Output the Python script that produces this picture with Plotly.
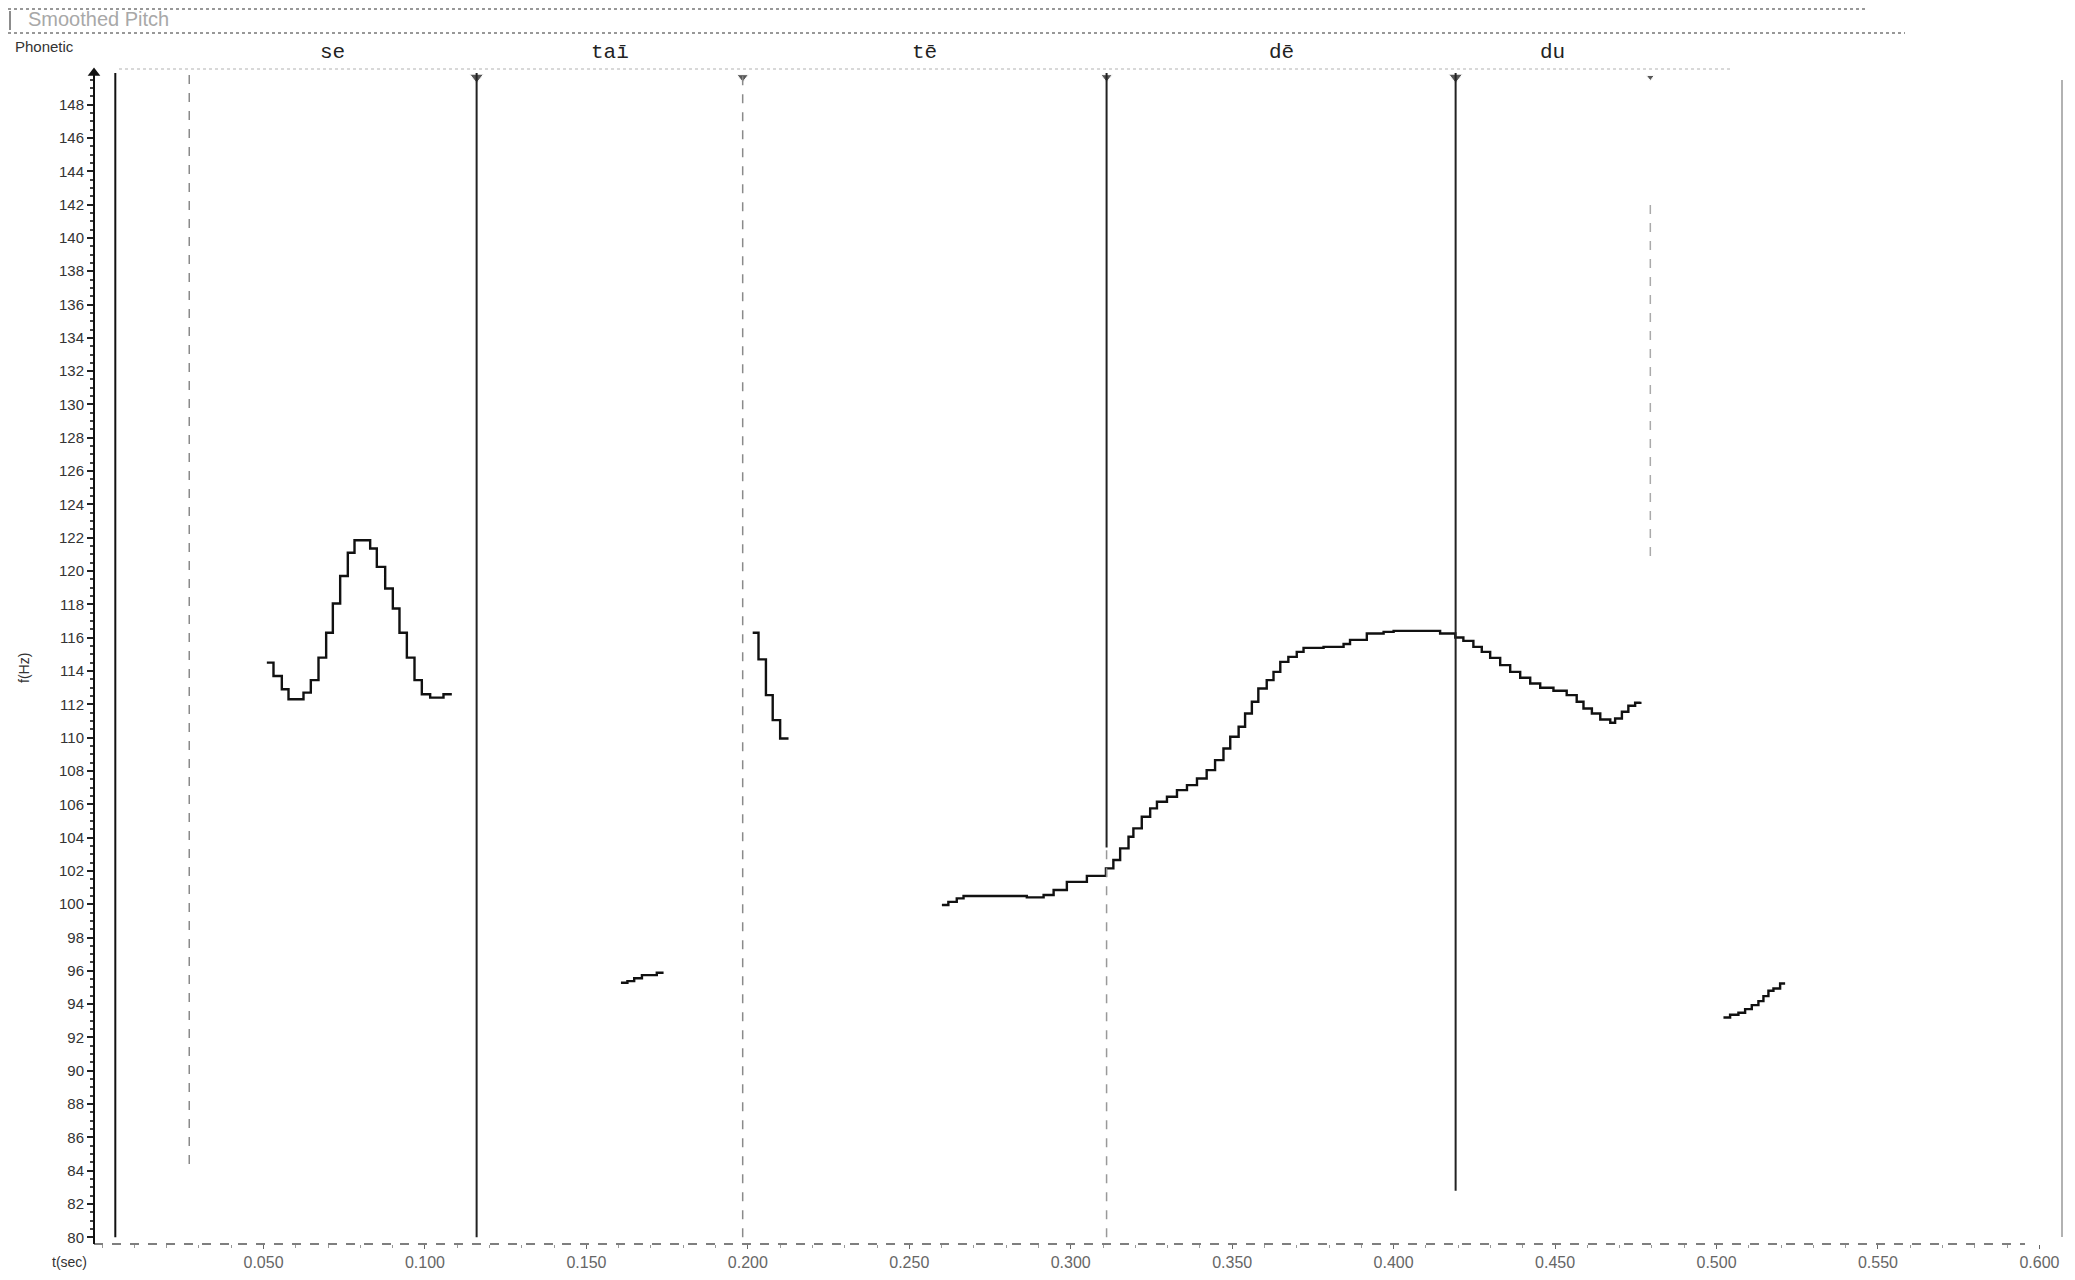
import plotly.graph_objs as go

# pitch contours (time in s, f0 in Hz)
se_t = [0.05103, 0.05309, 0.05567, 0.05774, 0.06238, 0.06465, 0.06703, 0.06940, 0.07147, 0.07374,
        0.07611, 0.07818, 0.08303, 0.08509, 0.08768, 0.09005, 0.09211, 0.09439, 0.09676, 0.09903,
        0.10161, 0.10574, 0.10832]
se_hz = [114.5, 113.7, 112.9, 112.3, 112.7, 113.45, 114.8, 116.3, 118.05, 119.7,
         121.1, 121.85, 121.35, 120.25, 118.95, 117.75, 116.3, 114.8, 113.45, 112.6,
         112.4, 112.6, 112.6]

tai_t = [0.1607, 0.1627, 0.1648, 0.1672, 0.1718, 0.1739]
tai_hz = [95.28, 95.38, 95.55, 95.74, 95.88, 95.88]

te_onset_t = [0.2015, 0.2033, 0.2056, 0.2077, 0.2100, 0.2126]
te_onset_hz = [116.3, 114.7, 112.55, 111.05, 109.95, 109.95]

main_t = [0.2601, 0.2621, 0.2647, 0.2668, 0.2854, 0.2864, 0.2916, 0.2947, 0.2988, 0.3050,
          0.3109, 0.3132, 0.3153, 0.3179, 0.3194, 0.3220, 0.3246, 0.3267, 0.3298, 0.3329,
          0.3360, 0.3391, 0.3421, 0.3447, 0.3473, 0.3494, 0.3520, 0.3540, 0.3561, 0.3581,
          0.3607, 0.3628, 0.3649, 0.3674, 0.3700, 0.3721, 0.3783, 0.3845, 0.3865, 0.3917,
          0.3969, 0.4000, 0.4103, 0.4144, 0.4191, 0.4216, 0.4247, 0.4273, 0.4299, 0.4330,
          0.4361, 0.4392, 0.4423, 0.4454, 0.4495, 0.4536, 0.4567, 0.4588, 0.4614, 0.4640,
          0.4671, 0.4686, 0.4707, 0.4727, 0.4748, 0.4764]
main_hz = [99.95, 100.14, 100.35, 100.49, 100.49, 100.41, 100.55, 100.85, 101.34, 101.70,
           102.15, 102.65, 103.35, 104.05, 104.55, 105.25, 105.75, 106.15, 106.45, 106.85,
           107.15, 107.55, 108.05, 108.65, 109.35, 110.05, 110.65, 111.45, 112.15, 112.95,
           113.45, 113.95, 114.55, 114.85, 115.15, 115.39, 115.45, 115.62, 115.87, 116.25,
           116.35, 116.41, 116.41, 116.25, 116.01, 115.81, 115.45, 115.15, 114.79, 114.35,
           113.95, 113.59, 113.25, 112.99, 112.81, 112.55, 112.15, 111.75, 111.45, 111.09,
           110.89, 111.15, 111.55, 111.91, 112.09, 112.15]

tail_t = [0.50215, 0.50421, 0.50679, 0.50886, 0.51092, 0.51298, 0.51453, 0.51608, 0.51763, 0.51970, 0.52125]
tail_hz = [93.20, 93.36, 93.48, 93.70, 93.94, 94.18, 94.48, 94.80, 94.94, 95.24, 95.24]

# segment boundaries and phonetic labels
start_mark = 0.0041
boundaries = [0.0270, 0.1160, 0.1984, 0.3111, 0.4192, 0.4795]
syllables = ['se', 'taī', 'tē', 'dē', 'du']

y_ticks = list(range(80, 150, 2))
x_ticks = [0.05, 0.10, 0.15, 0.20, 0.25, 0.30, 0.35, 0.40, 0.45, 0.50, 0.55, 0.60]
x_labels = ['0.050', '0.100', '0.150', '0.200', '0.250', '0.300', '0.350', '0.400', '0.450', '0.500', '0.550', '0.600']

X_RANGE = [-0.0025, 0.607]
Y_RANGE = [79.6, 149.9]

# figure pixel layout (page body adds an 8px margin)
OFF = 8
W, H = 2059, 1264
L, R, T, B = 86, 5, 65, 28


def px(x):
    return (x - OFF - L) / (W - L - R)


def py(y):
    return (H - B - (y - OFF)) / (H - T - B)


fig = go.Figure()

for t, hz in [(se_t, se_hz), (tai_t, tai_hz), (te_onset_t, te_onset_hz), (main_t, main_hz), (tail_t, tail_hz)]:
    fig.add_trace(go.Scatter(x=t, y=hz, mode='lines', line=dict(color='#111111', width=2.4, shape='hv'),
                             showlegend=False, hoverinfo='x+y'))

shapes = []
# start marker
shapes.append(dict(type='line', xref='x', yref='y', x0=start_mark, x1=start_mark, y0=80, y1=Y_RANGE[1],
                   line=dict(color='#111111', width=2)))
# boundary lines (pieces: solid black / faint dashed grey)
pieces = [
    [(84.4, Y_RANGE[1], '#8a8a8a', 'dash', 1.5)],
    [(80, Y_RANGE[1], '#222222', 'solid', 2)],
    [(80, Y_RANGE[1], '#8a8a8a', 'dash', 1.5)],
    [(103.4, Y_RANGE[1], '#222222', 'solid', 2), (80, 103.4, '#999999', 'dash', 1.5)],
    [(82.8, Y_RANGE[1], '#222222', 'solid', 2)],
    [(120.9, 142.4, '#aaaaaa', 'dash', 1.5)],
]
for b, segs in zip(boundaries, pieces):
    for y0, y1, c, d, w in segs:
        shapes.append(dict(type='line', xref='x', yref='y', x0=b, x1=b, y0=y0, y1=y1,
                           line=dict(color=c, width=w, dash=d)))

# right frame edge
shapes.append(dict(type='line', xref='paper', yref='paper', x0=1, x1=1, y0=py(1237), y1=py(80),
                   line=dict(color='#999999', width=1.5)))
# dashed x axis line
shapes.append(dict(type='line', xref='paper', yref='paper', x0=0, x1=px(2025), y0=0, y1=0,
                   line=dict(color='#555555', width=1.5, dash='dash')))
# y axis line
shapes.append(dict(type='line', xref='paper', yref='paper', x0=0, x1=0, y0=0, y1=1,
                   line=dict(color='#111111', width=2)))
# dotted header rules
for y, x1 in [(9, 1865), (33, 1905)]:
    shapes.append(dict(type='line', xref='paper', yref='paper', x0=px(OFF), x1=px(x1), y0=py(y), y1=py(y),
                       line=dict(color='#777777', width=1.5, dash='dot')))
shapes.append(dict(type='line', xref='paper', yref='paper', x0=px(119), x1=px(1733), y0=py(69), y1=py(69),
                   line=dict(color='#cccccc', width=1.5, dash='dot')))
shapes.append(dict(type='line', xref='paper', yref='paper', x0=px(10), x1=px(10), y0=py(11), y1=py(30),
                   line=dict(color='#666666', width=1.5)))

# boundary triangles and y axis arrow
fig.add_trace(go.Scatter(x=boundaries[1:], y=[Y_RANGE[1] - 0.25] * (len(boundaries) - 1), mode='markers',
                         marker=dict(symbol='triangle-down', size=[12, 10, 10, 12, 7], color='#111111'),
                         showlegend=False, hoverinfo='skip', cliponaxis=False))
fig.add_trace(go.Scatter(x=[X_RANGE[0]], y=[Y_RANGE[1]], mode='markers',
                         marker=dict(symbol='triangle-up', size=11, color='#111111'),
                         showlegend=False, hoverinfo='skip', cliponaxis=False))

annotations = []
edges = boundaries
for i, s in enumerate(syllables):
    mid = (edges[i] + edges[i + 1]) / 2
    annotations.append(dict(x=mid, y=py(52), xref='x', yref='paper', text=s, showarrow=False,
                            xanchor='center', yanchor='middle',
                            font=dict(family='Liberation Mono, DejaVu Sans Mono', size=21, color='#222222')))
annotations.append(dict(x=px(13), y=py(46), xref='paper', yref='paper', text='Phonetic', showarrow=False,
                        xanchor='left', yanchor='middle',
                        font=dict(family='Liberation Sans, Arial', size=15, color='#333333')))
annotations.append(dict(x=px(26), y=py(19), xref='paper', yref='paper', text='Smoothed Pitch', showarrow=False,
                        xanchor='left', yanchor='middle',
                        font=dict(family='Liberation Sans, Arial', size=20, color='#a8a8a8')))
annotations.append(dict(x=px(69), y=py(1262), xref='paper', yref='paper', text='t(sec)', showarrow=False,
                        xanchor='center', yanchor='middle',
                        font=dict(family='Liberation Sans, Arial', size=14, color='#333333')))
annotations.append(dict(x=px(24), y=py(668), xref='paper', yref='paper', text='f(Hz)', showarrow=False,
                        xanchor='center', yanchor='middle', textangle=-90,
                        font=dict(family='Liberation Sans, Arial', size=14, color='#333333')))

fig.update_layout(
    width=W, height=H,
    margin=dict(l=L, r=R, t=T, b=B, autoexpand=False),
    paper_bgcolor='white', plot_bgcolor='white',
    shapes=shapes, annotations=annotations,
    xaxis=dict(range=X_RANGE, tickvals=x_ticks, ticktext=x_labels, showgrid=False, zeroline=False,
               showline=False, ticks='outside', ticklen=4, tickcolor='#666666', automargin=False,
               tickfont=dict(family='Liberation Sans Narrow, Liberation Sans', size=16, color='#666666'),
               minor=dict(dtick=0.01, ticks='outside', ticklen=3, tickcolor='#999999')),
    yaxis=dict(range=Y_RANGE, tickvals=y_ticks, showgrid=False, zeroline=False, showline=False,
               ticks='outside', ticklen=6, tickcolor='#222222', tickwidth=1.5, automargin=False,
               tickfont=dict(family='Liberation Sans, Arial', size=15, color='#333333'),
               minor=dict(dtick=0.5, ticks='outside', ticklen=3, tickcolor='#444444')),
)

fig.write_html('out.html')
